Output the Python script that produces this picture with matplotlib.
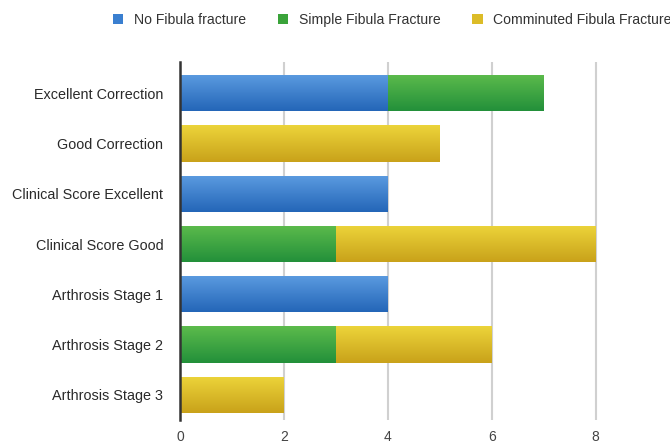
import matplotlib.pyplot as plt
import numpy as np
from matplotlib.colors import LinearSegmentedColormap
from matplotlib.patches import Patch

plt.rcParams['font.family'] = ['Liberation Sans', 'DejaVu Sans']

categories = ["Excellent Correction", "Good Correction", "Clinical Score Excellent",
              "Clinical Score Good", "Arthrosis Stage 1", "Arthrosis Stage 2",
              "Arthrosis Stage 3"]
no_fracture = [4, 0, 4, 0, 4, 0, 0]
simple_fracture = [3, 0, 0, 3, 0, 3, 0]
comminuted_fracture = [0, 5, 0, 5, 0, 3, 2]
series_names = ["No Fibula fracture", "Simple Fibula Fracture", "Comminuted Fibula Fracture"]
x_ticks = [0, 2, 4, 6, 8]

# (top, bottom) colours for the glossy look
colors = [("#5b9be0", "#2466b8"), ("#5cbb4c", "#23903a"), ("#ecd43a", "#c9a21a")]
legend_colors = ["#3a7fd0", "#3aa33a", "#dcbc28"]

fig = plt.figure(figsize=(6.7, 4.43), dpi=100)
ax = fig.add_axes([0.2687, 0.052, 0.659, 0.808])

ypos = np.arange(len(categories))[::-1]
left = np.zeros(len(categories))
for vals, (c_top, c_bot), name in zip([no_fracture, simple_fracture, comminuted_fracture], colors, series_names):
    vals = np.array(vals, dtype=float)
    bars = ax.barh(ypos, vals, left=left, height=0.72, color=c_bot, edgecolor="none", zorder=3)
    cmap = LinearSegmentedColormap.from_list(name, [c_top, c_bot])
    grad = np.linspace(0, 1, 64).reshape(-1, 1)
    for b in bars:
        if b.get_width() <= 0:
            continue
        x0, y0 = b.get_x(), b.get_y()
        w, h = b.get_width(), b.get_height()
        im = ax.imshow(grad, cmap=cmap, aspect="auto", extent=(x0, x0 + w, y0, y0 + h),
                       origin="upper", zorder=4)
        im.set_clip_path(b)
    left += vals

ax.set_xlim(0, 8.5)
ax.set_ylim(-0.5, 6.62)
ax.set_xticks(x_ticks)
ax.set_yticks(ypos)
ax.set_yticklabels(categories, fontsize=10.4, color="#2a2a2a")
ax.tick_params(axis="y", length=0, pad=12)
ax.tick_params(axis="x", length=0, pad=7, labelsize=10, labelcolor="#444444")
ax.grid(axis="x", color="#d0d0d0", linewidth=1.5, zorder=0)
for s in ["top", "right", "bottom"]:
    ax.spines[s].set_visible(False)
ax.spines["left"].set_color("#333333")
ax.spines["left"].set_linewidth(1.8)
ax.spines["left"].set_zorder(5)

handles = [Patch(facecolor=c, edgecolor="none") for c in legend_colors]
leg = fig.legend(handles, series_names, loc="center left", bbox_to_anchor=(0.1687, 0.955), ncol=3,
                 frameon=False, fontsize=10.1, handlelength=0.72, handleheight=0.72,
                 handletextpad=0.75, columnspacing=2.3, borderaxespad=0, borderpad=0)
for t in leg.get_texts():
    t.set_color("#333333")

fig.savefig("out.png", dpi=100)
